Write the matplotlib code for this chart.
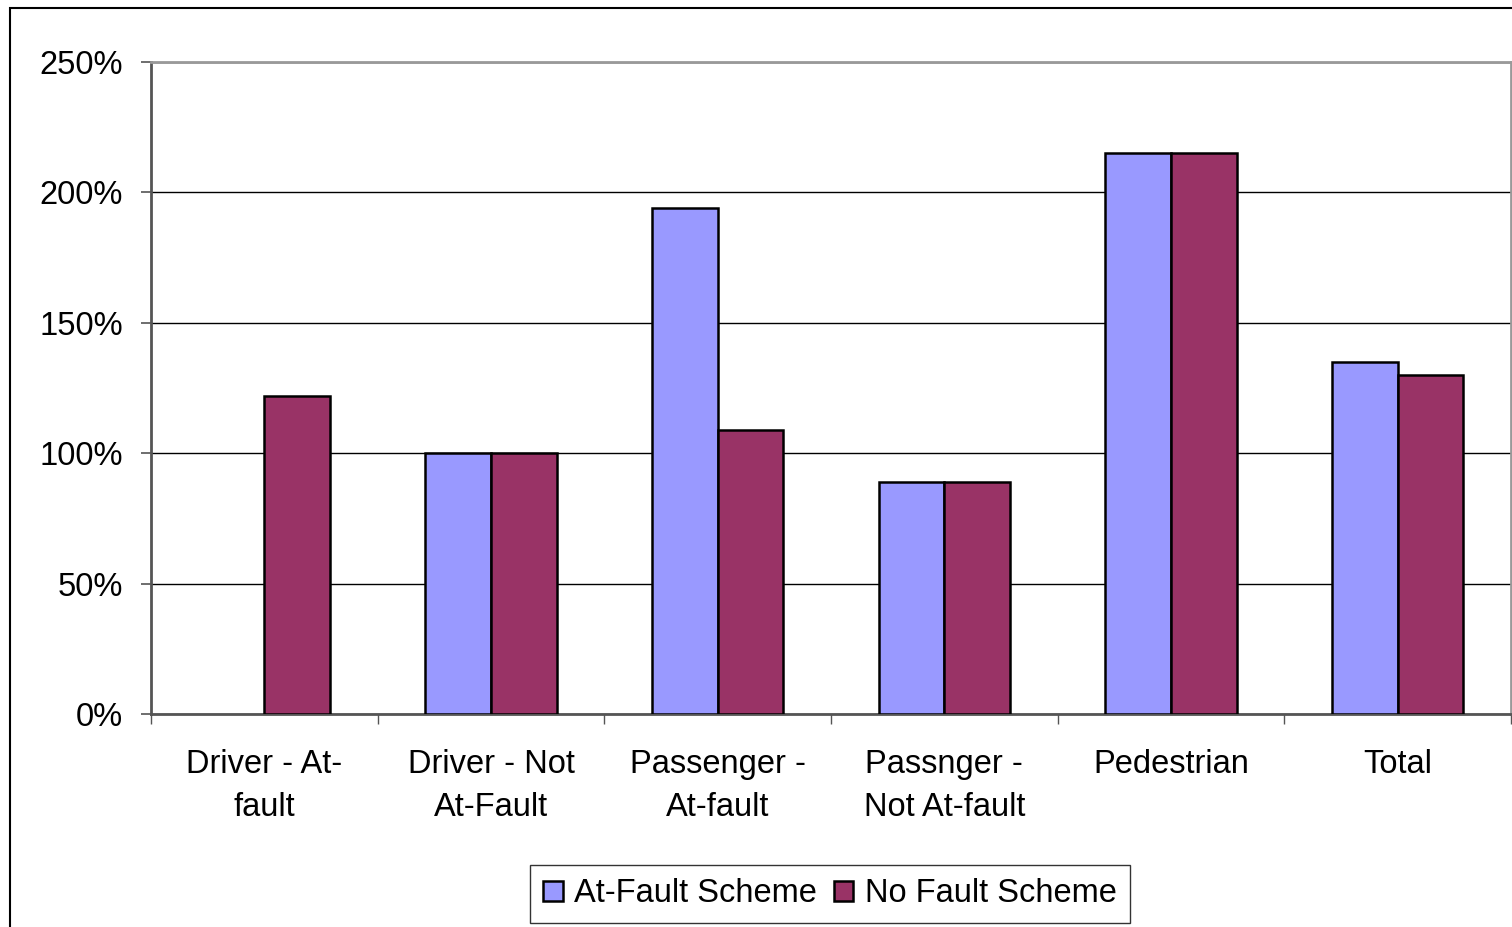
import matplotlib
matplotlib.use("Agg")
import matplotlib.pyplot as plt
import numpy as np
from matplotlib.patches import Rectangle
from matplotlib.ticker import FixedLocator, PercentFormatter

plt.rcParams['font.family'] = ['Liberation Sans', 'DejaVu Sans']

categories = ["Driver - At-\nfault", "Driver - Not\nAt-Fault", "Passenger -\nAt-fault",
              "Passnger -\nNot At-fault", "Pedestrian", "Total"]
at_fault = [np.nan, 100, 194, 89, 215, 135]
no_fault = [122, 100, 109, 89, 215, 130]
series_names = ["At-Fault Scheme", "No Fault Scheme"]
yticks = [0, 50, 100, 150, 200, 250]

fig = plt.figure(figsize=(15.12, 9.27), dpi=100)
ax = fig.add_axes([151/1512, 1-714/927, 1360/1512, 652/927])

x = np.arange(len(categories))
w = 0.29
ax.bar(x - w/2, at_fault, w, color="#9999FF", edgecolor="black", linewidth=1.8,
       label=series_names[0], zorder=3)
ax.bar(x + w/2, no_fault, w, color="#993366", edgecolor="black", linewidth=1.8,
       label=series_names[1], zorder=3)

ax.set_xlim(-0.5, len(categories) - 0.5)
ax.set_ylim(0, 250)
ax.set_yticks(yticks)
ax.yaxis.set_major_formatter(PercentFormatter(decimals=0))
ax.yaxis.grid(True, color="black", linewidth=1.0, zorder=0)
ax.set_axisbelow(True)

ax.set_xticks(x)
ax.set_xticklabels(categories, fontsize=23.5, linespacing=1.53)
ax.xaxis.set_minor_locator(FixedLocator(np.arange(-0.5, len(categories), 1.0)))
ax.tick_params(axis="x", which="major", length=0, pad=25)
ax.tick_params(axis="x", which="minor", length=7, width=1.0, color="#555555")
ax.tick_params(axis="y", which="major", length=7, width=1.2, color="#555555",
               labelsize=23.5, pad=13)

for s in ["top", "right"]:
    ax.spines[s].set_color("#999999")
    ax.spines[s].set_linewidth(2.0)
ax.spines["left"].set_color("#555555")
ax.spines["left"].set_linewidth(2.0)
ax.spines["bottom"].set_color("#555555")
ax.spines["bottom"].set_linewidth(2.0)

leg = fig.legend(loc="center", bbox_to_anchor=(830/1512, 1-894/927), ncol=2,
                 fontsize=23.5, frameon=True, fancybox=False, edgecolor="black",
                 handlelength=0.6, handleheight=0.6, handletextpad=0.35,
                 columnspacing=0.5, borderpad=0.4, borderaxespad=0)
leg.get_frame().set_linewidth(1.0)

fig.patches.append(Rectangle((10/1512, -0.2), 2.0, 1.2 - 8/927, transform=fig.transFigure,
                             fill=False, edgecolor="black", linewidth=1.5, clip_on=False))

fig.savefig("out.png", dpi=100)
